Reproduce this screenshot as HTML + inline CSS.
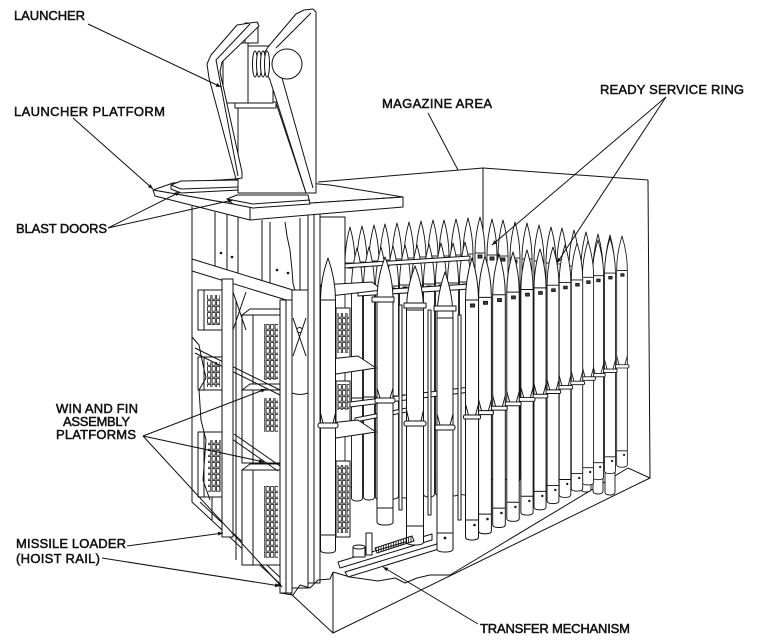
<!DOCTYPE html>
<html><head><meta charset="utf-8"><style>
html,body{margin:0;padding:0;background:#fff;width:760px;height:644px;overflow:hidden}
svg{display:block}
text{font-family:"Liberation Sans",sans-serif;font-size:13px;fill:#111;stroke:#111;stroke-width:0.5}
</style></head><body>
<svg width="760" height="644" viewBox="0 0 760 644" xmlns="http://www.w3.org/2000/svg">
<defs>
<marker id="ar" viewBox="0 0 10 10" refX="10" refY="5" markerWidth="7" markerHeight="5" orient="auto" markerUnits="userSpaceOnUse"><path d="M0,1L10,5L0,9z" fill="#111" stroke="none"/></marker>
<pattern id="g" width="4.5" height="6" patternUnits="userSpaceOnUse"><rect x="0.6" y="0.6" width="3.2" height="4.6" fill="none" stroke="#111" stroke-width="0.8"/></pattern>
<pattern id="h" width="2.5" height="6" patternUnits="userSpaceOnUse"><path d="M1,0V6" stroke="#111" stroke-width="0.8"/></pattern>
<g id="bk" stroke="#111" stroke-width="0.9">
<path d="M0,0Q5,18 5,36L5,257Q5,260 0,260Q-5,260 -5,257L-5,36Q-5,18 0,0Z" fill="#fff"/>
<path d="M-5,36H5" fill="none"/>
<rect x="-2" y="38" width="4" height="3" fill="#444"/>
</g>
<g id="md" stroke="#111" stroke-width="0.9">
<path d="M0,0Q5.5,20 5.5,40L5.5,250Q5.5,253 0,253Q-5.5,253 -5.5,250L-5.5,40Q-5.5,20 0,0Z" fill="#fff"/>
<path d="M-5.5,40H5.5M-5.5,150H5.5" fill="none"/>
<rect x="-2" y="42" width="4" height="3" fill="#444"/>
</g>
<g id="fm" stroke="#111" stroke-width="1">
<path d="M0,0Q6.5,21 6.5,42L6.5,279Q6.5,282 0,282Q-6.5,282 -6.5,279L-6.5,42Q-6.5,21 0,0Z" fill="#fff"/>
<path d="M-6.5,42H6.5M-6.5,146L-3.5,157M6.5,146L3.5,157M-6.5,262H6.5" fill="none"/>
<rect x="-1.5" y="46" width="4" height="3" fill="#444"/>
<rect x="-8.5" y="157" width="17" height="4" rx="1.5" fill="#fff"/>
<circle cx="2.5" cy="267" r="1.3" fill="#111" stroke="none"/>
</g>
</defs>

<g fill="none" stroke="#111" stroke-width="1" stroke-linejoin="round">
<!-- magazine box -->
<path d="M318,182L483,168L648,180M483,168V240M648,180L650,478L333,633V572M628,468L650,478M192,206V502L333,633M200,502L285,582"/>
<path d="M333,572L350,577L378,581L395,578L405,583L417,578L430,575L450,575L628,468"/>

<!-- back row -->
<use href="#bk" transform="translate(350,227)"/><use href="#bk" transform="translate(362,226)"/><use href="#bk" transform="translate(374,225)"/><use href="#bk" transform="translate(385,224)"/><use href="#bk" transform="translate(397,223)"/><use href="#bk" transform="translate(409,222)"/><use href="#bk" transform="translate(421,221)"/><use href="#bk" transform="translate(433,220)"/><use href="#bk" transform="translate(444,220)"/><use href="#bk" transform="translate(456,219)"/><use href="#bk" transform="translate(468,218)"/><use href="#bk" transform="translate(480,217)"/><use href="#bk" transform="translate(492,219)"/><use href="#bk" transform="translate(503,220)"/><use href="#bk" transform="translate(515,222)"/><use href="#bk" transform="translate(527,223)"/><use href="#bk" transform="translate(539,225)"/><use href="#bk" transform="translate(551,227)"/><use href="#bk" transform="translate(562,228)"/><use href="#bk" transform="translate(574,230)"/><use href="#bk" transform="translate(586,232)"/><use href="#bk" transform="translate(598,234)"/><use href="#bk" transform="translate(610,235)"/>

<!-- middle row -->
<use href="#md" transform="translate(357,248)"/><use href="#md" transform="translate(369,247)"/><use href="#md" transform="translate(381,247)"/><use href="#md" transform="translate(393,246)"/><use href="#md" transform="translate(405,245)"/><use href="#md" transform="translate(417,245)"/><use href="#md" transform="translate(429,244)"/><use href="#md" transform="translate(441,243)"/><use href="#md" transform="translate(453,243)"/><use href="#md" transform="translate(465,242)"/>

<!-- rails -->
<polygon points="343,264 470,256 470,260 343,268" fill="#fff"/>
<polygon points="358,291 470,284 470,289 358,296" fill="#fff"/>
<polygon points="350,402 470,387 470,392 350,407" fill="#fff"/>
<polygon points="355,418 412,407 412,411 355,422" fill="#fff"/>
<rect x="399" y="305" width="3" height="205" fill="#fff"/>
<rect x="428" y="310" width="3" height="205" fill="#fff"/>
<rect x="458" y="315" width="3" height="205" fill="#fff"/>
<polygon points="338,562 432,534 432,540 340,568" fill="#fff"/>
<polygon points="345,572 440,543 442,548 348,577" fill="#fff"/>

<!-- shelves / cabinets right of tower -->
<rect x="318" y="217" width="27" height="70" fill="#fff"/>
<polygon points="320,285 372,282 382,290 330,296" fill="#fff"/>
<rect x="336" y="308" width="14" height="60" fill="#fff"/><rect x="337" y="313" width="12" height="40" fill="url(#g)" stroke="none"/>
<polygon points="320,360 358,356 376,368 336,374" fill="#fff"/>
<rect x="336" y="381" width="14" height="46" fill="#fff"/><rect x="337" y="384" width="12" height="26" fill="url(#g)" stroke="none"/>
<polygon points="320,424 358,420 376,432 336,438" fill="#fff"/>
<rect x="336" y="461" width="14" height="76" fill="#fff"/><rect x="337" y="465" width="12" height="68" fill="url(#g)" stroke="none"/>

<!-- tall loader missiles -->
<path d="M385,257Q393,278 393,300L393,522Q393,525 385,525Q377,525 377,522L377,300Q377,278 385,257Z" fill="#fff"/>
<path d="M377,300H393M377,388L380,398M393,388L390,398M377,508H393"/><rect x="375" y="398" width="20" height="5" rx="2" fill="#fff"/>
<path d="M415,266Q423.5,288 423.5,310L423.5,542Q423.5,545 415,545Q406.5,545 406.5,542L406.5,310Q406.5,288 415,266Z" fill="#fff"/>
<path d="M406.5,310H423.5M406.5,410L409,421M423.5,410L421,421M406.5,526H423.5"/><rect x="404" y="421" width="22" height="5" rx="2" fill="#fff"/>
<path d="M445,272Q453,295 453,318L453,549Q453,552 445,552Q437,552 437,549L437,318Q437,295 445,272Z" fill="#fff"/>
<path d="M437,318H453M437,414L440,425M453,414L450,425M437,533H453"/><rect x="435" y="425" width="20" height="5" rx="2" fill="#fff"/>
<circle cx="445" cy="538" r="1.4" fill="#111" stroke="none"/>
<rect x="372" y="297" width="22" height="5" fill="#fff"/><rect x="404" y="303" width="22" height="5" fill="#fff"/><rect x="434" y="306" width="22" height="5" fill="#fff"/>

<!-- front row -->
<use href="#fm" transform="translate(622,236) scale(0.82)"/><use href="#fm" transform="translate(610,238) scale(0.835)"/><use href="#fm" transform="translate(598,240) scale(0.85)"/><use href="#fm" transform="translate(588,241) scale(0.865)"/><use href="#fm" transform="translate(577,243) scale(0.88)"/><use href="#fm" transform="translate(565,245) scale(0.895)"/><use href="#fm" transform="translate(553,247) scale(0.91)"/><use href="#fm" transform="translate(540,249) scale(0.925)"/><use href="#fm" transform="translate(527,250) scale(0.94)"/><use href="#fm" transform="translate(513,252) scale(0.955)"/><use href="#fm" transform="translate(499,254) scale(0.97)"/><use href="#fm" transform="translate(485,256) scale(0.985)"/><use href="#fm" transform="translate(472,258)"/>

<!-- floor items -->
<polygon points="375,548 412,536 414,541 377,553" fill="url(#h)"/>
<rect x="353" y="547" width="12" height="10" fill="#fff"/><ellipse cx="359" cy="547" rx="6" ry="2" fill="#fff"/>
<rect x="366" y="533" width="6" height="22" fill="#fff"/>

<!-- left structure: upper panels -->
<path d="M215,212V266M227,214V270M238,217V273M270,222V289M300,218V290M262,220V286"/>
<path d="M285,222L287,236L290,250L292,270L293,283L295,291"/>
<g fill="#111" stroke="none"><circle cx="221" cy="253" r="1.3"/><circle cx="232" cy="257" r="1.3"/><circle cx="277" cy="270" r="1.3"/><circle cx="288" cy="273" r="1.3"/></g>

<!-- cabinets -->
<rect x="198" y="290" width="24" height="40" fill="#fff"/><path d="M204,290V330"/><rect x="207" y="295" width="13" height="30" fill="url(#g)" stroke="none"/>
<rect x="198" y="357" width="24" height="33" fill="#fff"/><path d="M204,357V390"/><rect x="207" y="362" width="13" height="25" fill="url(#g)" stroke="none"/>
<rect x="198" y="432" width="24" height="65" fill="#fff"/><path d="M204,432V497"/><rect x="208" y="440" width="13" height="52" fill="url(#g)" stroke="none"/>
<polygon points="242,315 250,309 280,309 280,315" fill="#fff"/>
<rect x="242" y="315" width="38" height="75" fill="#fff"/><path d="M253,315V390"/><rect x="264" y="324" width="14" height="56" fill="url(#g)" stroke="none"/>
<polygon points="242,390 250,384 280,384 280,390" fill="#fff"/>
<rect x="242" y="390" width="38" height="73" fill="#fff"/><path d="M253,390V463"/><rect x="264" y="398" width="14" height="34" fill="url(#g)" stroke="none"/>
<polygon points="242,470 250,464 280,464 280,470" fill="#fff"/>
<rect x="242" y="470" width="38" height="95" fill="#fff"/><path d="M253,470V565"/><rect x="264" y="486" width="14" height="72" fill="url(#g)" stroke="none"/>
<path d="M212,497V520M236,300V560"/>

<!-- platform rods -->
<path d="M195,348L280,390M195,353L280,395M234,434L280,466M232,439L278,471"/>
<path d="M192,337L199,345L202,360L206,378L199,390L201,420L206,440L203,480L210,500"/>

<!-- beam and columns -->
<polygon points="192,259 296,291 296,303 192,271" fill="#fff"/>
<rect x="222" y="279" width="11" height="258" fill="#fff"/>
<rect x="280" y="300" width="12" height="293" fill="#fff"/>
<rect x="292" y="290" width="16" height="298" fill="#fff"/>
<path d="M292,393Q300,396 308,393M286,300V593"/>
<rect x="308" y="213" width="12" height="370" fill="#fff"/>
<path d="M314,213V583"/>
<path d="M233,292L246,330M246,292L233,330M293,318L306,356M306,318L293,356"/>
<circle cx="299.5" cy="330" r="2.5" fill="#fff"/>
<path d="M280,593L293,595L300,585L310,588L318,580L330,579L333,572"/>

<!-- missile A -->
<path d="M328,258Q335.5,279 335.5,300L335.5,550Q335.5,553 328,553Q320.5,553 320.5,550L320.5,300Q320.5,279 328,258Z" fill="#fff"/>
<path d="M320.5,300H335.5M320.5,413L323,423M335.5,413L333,423M320.5,535H335.5"/><rect x="318" y="423" width="20" height="5" rx="2" fill="#fff"/>

<!-- platform slab & doors -->
<polygon points="153,190 173,183 250,178 330,185 403,197 250,207" fill="#fff"/>
<polygon points="153,190 250,207 250,220 155,196" fill="#fff"/>
<polygon points="250,207 403,197 403,207 250,220" fill="#fff"/>
<polygon points="171,185 181,181 239,180 239,190 181,193 171,189" fill="#fff"/>
<path d="M171,185L181,189L239,187"/>
<polygon points="227,199 237,195 308,195 310,204 253,208 233,204" fill="#fff"/>
<path d="M227,199L253,204L310,200"/>

<!-- launcher -->
<polygon points="238,103 276,103 306,193 238,193" fill="#fff"/>
<rect x="235" y="102" width="41" height="6" fill="#fff"/>
<rect x="223" y="43" width="25" height="60" fill="#fff"/>
<rect x="248" y="46" width="25" height="57" fill="#fff"/>
<rect x="245" y="23" width="13" height="20" fill="#fff"/>
<polygon points="296,14 304,10 313,9 316,12 316,193 306,193 270,80 264,68 263,55 268,47" fill="#fff"/>
<path d="M311,13L276,48M282,78L313,188"/>
<ellipse cx="255" cy="64" rx="2.5" ry="13" fill="#fff"/><ellipse cx="259" cy="64" rx="2.5" ry="13" fill="#fff"/><ellipse cx="263" cy="64" rx="2.5" ry="13" fill="#fff"/><ellipse cx="267" cy="64" rx="2.5" ry="13" fill="#fff"/>
<circle cx="287" cy="64" r="15" fill="#fff"/>
<polygon points="237,25 257,22 259,26 222,62 220,72 242,172 242,178 236,179 209,78 207,64 211,55" fill="#fff"/>
<path d="M250,24L216,60L238,176"/>

<!-- leaders -->
<g marker-end="url(#ar)">
<path d="M88,24L221,87"/>
<path d="M73,118L153,189"/>
<path d="M108,228L180,192"/>
<path d="M108,228L233,200"/>
<path d="M666,97L492,245"/>
<path d="M666,97L557,263"/>
<path d="M143,436L266,389"/>
<path d="M143,436L264,462"/>
<path d="M143,436L282,587"/>
<path d="M127,546L223,533"/>
<path d="M102,558L280,586"/>
<path d="M478,624L383,567"/>
</g>
<path d="M428,113L458,170"/>
</g>

<text x="14" y="20" textLength="71" lengthAdjust="spacing">LAUNCHER</text>
<text x="14" y="116" textLength="151" lengthAdjust="spacing">LAUNCHER PLATFORM</text>
<text x="16" y="233" textLength="91" lengthAdjust="spacing">BLAST DOORS</text>
<text x="382" y="108" textLength="110" lengthAdjust="spacing">MAGAZINE AREA</text>
<text x="600" y="94" textLength="144" lengthAdjust="spacing">READY SERVICE RING</text>
<text x="56" y="413" textLength="82" lengthAdjust="spacing">WIN AND FIN</text>
<text x="63" y="426" textLength="67" lengthAdjust="spacing">ASSEMBLY</text>
<text x="56" y="439" textLength="80" lengthAdjust="spacing">PLATFORMS</text>
<text x="16" y="548" textLength="110" lengthAdjust="spacing">MISSILE LOADER</text>
<text x="16" y="563" textLength="84" lengthAdjust="spacing">(HOIST RAIL)</text>
<text x="480" y="633" textLength="150" lengthAdjust="spacing">TRANSFER MECHANISM</text>
</svg>
</body></html>
